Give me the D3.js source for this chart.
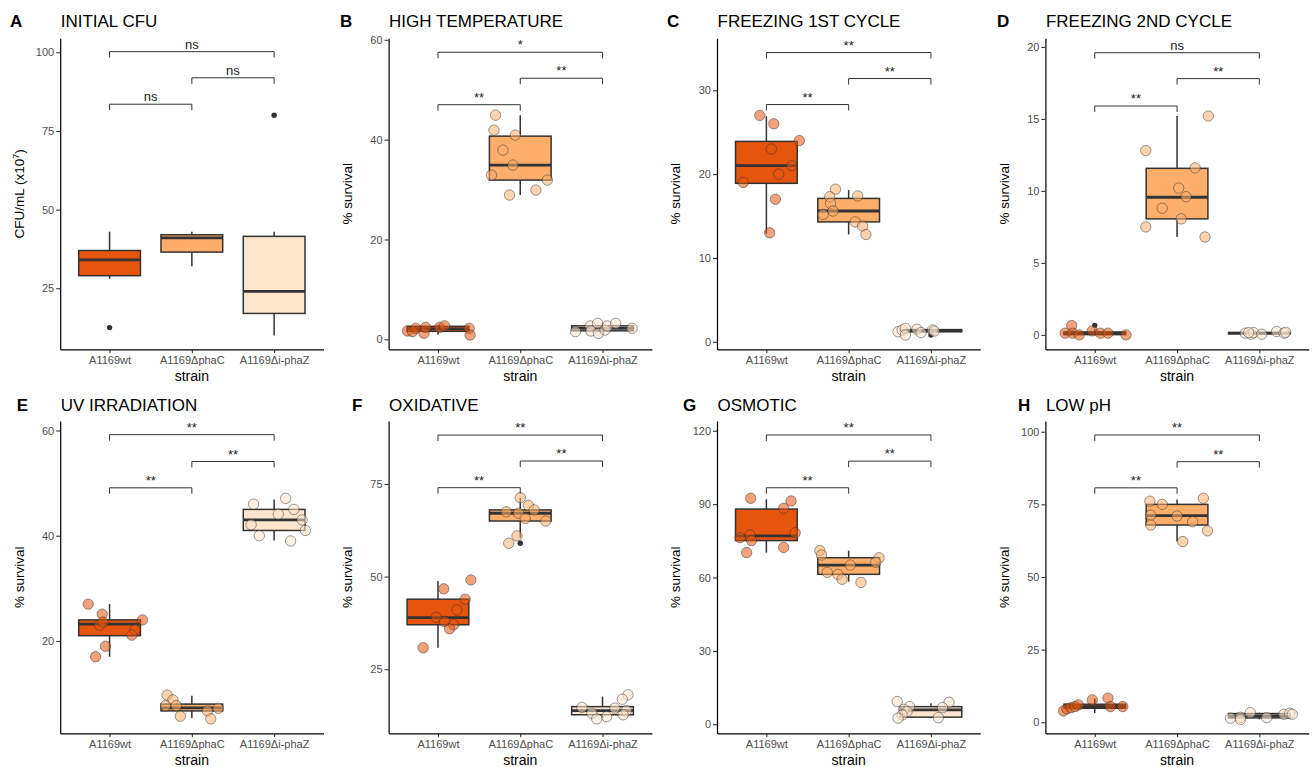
<!DOCTYPE html>
<html>
<head>
<meta charset="utf-8">
<script src="https://cdn.jsdelivr.net/npm/d3@7"></script>
<style>
  body { margin: 0; background: #fff; }
  text { font-family: "Liberation Sans", Arial, sans-serif; }
</style>
</head>
<body>
<svg id="chart" width="1312" height="767"></svg>
<script>
// ---- data ----
const strains = ["A1169wt", "A1169ΔphaC", "A1169Δi-phaZ"];
const fills = ["#E6550D", "#FDAE6B", "#FEE6CE"];

const letters = ["A", "B", "C", "D", "E", "F", "G", "H"];
const titles = ["INITIAL CFU", "HIGH TEMPERATURE", "FREEZING 1ST CYCLE", "FREEZING 2ND CYCLE",
                "UV IRRADIATION", "OXIDATIVE", "OSMOTIC", "LOW pH"];
const yDomains = [[5.6, 104.45], [-2, 60.3], [-0.9, 36.2], [-1, 20.6],
                  [2.45, 61.8], [7.7, 92], [-3.7, 124], [-3.8, 103.7]];
const yTicks = [[25, 50, 75, 100], [0, 20, 40, 60], [0, 10, 20, 30], [0, 5, 10, 15, 20],
                [20, 40, 60], [25, 50, 75], [0, 30, 60, 90, 120], [0, 25, 50, 75, 100]];

// box stats per strain: [lower whisker, q1, median, q3, upper whisker]
const boxA = [[28, 29, 34, 37, 43], [32, 36.5, 41, 42, 43], [10, 17, 24, 41.5, 43]];
const boxB = [[0.9, 1.6, 2.1, 2.6, 2.9], [28.9, 31.9, 34.9, 40.7, 44.9], [1.2, 1.7, 2.2, 2.7, 3.2]];
const boxC = [[12.9, 18.9, 21.0, 23.9, 26.9], [12.8, 14.3, 15.6, 17.1, 18.1], [1.1, 1.2, 1.3, 1.45, 1.6]];
const boxD = [[0, 0.02, 0.12, 0.2, 0.4], [6.8, 8.06, 9.56, 11.57, 15.2], [0.05, 0.08, 0.12, 0.16, 0.23]];
const boxE = [[17, 21, 23.2, 24, 27], [5.3, 6.7, 7.3, 8.0, 9.6], [39.1, 41, 43, 45, 46.9]];
const boxF = [[30.8, 37, 38.9, 43.9, 48.8], [60.5, 65, 67.1, 68, 71.3], [11.8, 12.7, 13.8, 14.9, 17.6]];
const boxG = [[70.2, 75.1, 77, 88, 92], [58.3, 61.3, 65.1, 68.1, 71], [2.5, 2.9, 5.9, 7.2, 8.6]];
const boxH = [[3.2, 4.8, 5.4, 6.2, 8.2], [62.2, 67.9, 71.1, 75, 76.7], [1.0, 1.5, 2.2, 3.0, 3.3]];

// outliers: [strain, value]
const outA = [[0, 12.5], [2, 80]];
const outB = [];
const outC = [[2, 0.8]];
const outD = [[0, 0.65]];
const outE = [];
const outF = [[1, 59]];
const outG = [];
const outH = [];

// jittered replicates: [strain, value, jitter (fraction of category step)]
const ptsA = [];
const ptsB = [
  [0, 1.67, -0.37], [0, 1.53, -0.31], [0, 2.2, -0.27], [0, 1.2, -0.17], [0, 2.4, -0.15], [0, 2.4, 0.02], [0, 2.7, 0.08], [0, 2.2, 0.38], [0, 0.87, 0.39],
  [1, 44.9, -0.30], [1, 41.9, -0.32], [1, 40.9, -0.06], [1, 37.9, -0.21], [1, 34.9, -0.09], [1, 32.9, -0.35], [1, 31.9, 0.33], [1, 29.9, 0.19], [1, 28.9, -0.13],
  [2, 1.53, -0.33], [2, 2.67, -0.15], [2, 1.67, -0.14], [2, 3.2, -0.06], [2, 1.2, -0.05], [2, 1.87, 0.03], [2, 2.67, 0.06], [2, 3.2, 0.16], [2, 2.2, 0.36]];
const ptsC = [
  [0, 27, -0.08], [0, 26, 0.09], [0, 24, 0.40], [0, 23, 0.06], [0, 21, 0.31], [0, 20, 0.15], [0, 19, -0.28], [0, 17, 0.11], [0, 13, 0.04],
  [1, 18.2, -0.16], [1, 17.3, -0.23], [1, 17.4, 0.11], [1, 16.5, -0.22], [1, 15.6, -0.19], [1, 15.2, -0.31], [1, 14.3, 0.08], [1, 13.8, 0.17], [1, 12.8, 0.21],
  [2, 1.2, -0.40], [2, 1.4, -0.35], [2, 1.6, -0.31], [2, 0.8, -0.31], [2, 1.5, -0.17], [2, 1.1, -0.12], [2, 1.4, 0.02], [2, 1.27, 0.04]];
const ptsD = [
  [0, 0.65, -0.28], [0, 0.12, -0.36], [0, 0.12, -0.27], [0, 0, -0.19], [0, 0.28, -0.03], [0, 0.12, 0.07], [0, 0.12, 0.16], [0, 0, 0.38],
  [1, 15.2, 0.38], [1, 12.8, -0.38], [1, 11.6, 0.22], [1, 10.2, 0.02], [1, 9.6, 0.11], [1, 8.8, -0.18], [1, 8.06, 0.05], [1, 7.5, -0.38], [1, 6.8, 0.34],
  [2, 0.12, -0.17], [2, 0.05, -0.10], [2, 0.16, -0.07], [2, 0.05, 0.03], [2, 0.23, 0.21], [2, 0.12, 0.30], [2, 0.18, 0.32], [2, 0.16, -0.13]];
const ptsE = [
  [0, 27, -0.26], [0, 25.1, -0.09], [0, 23, -0.12], [0, 23.6, -0.08], [0, 24, 0.40], [0, 22.1, 0.31], [0, 21.1, 0.27], [0, 19, -0.05], [0, 17, -0.17],
  [1, 9.7, -0.30], [1, 8.8, -0.23], [1, 7.7, -0.32], [1, 7.7, -0.19], [1, 5.7, -0.14], [1, 6.7, 0.19], [1, 5.2, 0.23], [1, 7.2, 0.32],
  [2, 46, -0.25], [2, 47.1, 0.14], [2, 44.1, 0.05], [2, 45, 0.24], [2, 42.1, -0.28], [2, 43, 0.34], [2, 41, 0.38], [2, 40, -0.18], [2, 39, 0.20]];
const ptsF = [
  [0, 49.1, 0.40], [0, 46.7, 0.07], [0, 43.9, 0.33], [0, 41, 0.23], [0, 39, -0.02], [0, 37.9, 0.08], [0, 37, 0.19], [0, 35.9, 0.14], [0, 30.8, -0.18],
  [1, 71.3, 0.00], [1, 69.2, 0.10], [1, 68, 0.17], [1, 67.5, -0.17], [1, 67.1, -0.02], [1, 65.7, 0.06], [1, 65, 0.31], [1, 61, -0.04], [1, 59, -0.14],
  [2, 18.1, 0.31], [2, 16.9, 0.24], [2, 14.7, -0.25], [2, 14.5, 0.15], [2, 13.8, 0.29], [2, 13.1, -0.13], [2, 12.7, 0.25], [2, 12.2, 0.05], [2, 11.6, -0.07]];
const ptsG = [
  [0, 92.4, -0.19], [0, 91.3, 0.30], [0, 88.3, 0.21], [0, 78.3, 0.35], [0, 77.4, -0.20], [0, 76.3, -0.32], [0, 75.1, -0.18], [0, 72.3, 0.21], [0, 70.2, -0.24],
  [1, 71, -0.35], [1, 69.2, -0.33], [1, 68.1, 0.37], [1, 66.2, 0.33], [1, 65.1, 0.02], [1, 62.1, -0.26], [1, 61.3, -0.13], [1, 59.3, -0.08], [1, 58, 0.15],
  [2, 9.3, -0.41], [2, 9, 0.22], [2, 7.2, -0.26], [2, 6.1, -0.33], [2, 6.8, 0.14], [2, 5.2, -0.29], [2, 3.8, -0.35], [2, 2.5, -0.40], [2, 2.7, 0.09]];
const ptsH = [
  [0, 3.9, -0.38], [0, 4.6, -0.34], [0, 5, -0.29], [0, 5.4, -0.24], [0, 6, -0.20], [0, 7.7, -0.03], [0, 8.3, 0.16], [0, 5.4, 0.19], [0, 5.4, 0.34],
  [1, 77.1, 0.32], [1, 76.1, -0.33], [1, 75, -0.18], [1, 71.3, -0.32], [1, 71, 0], [1, 69, 0.19], [1, 67.9, -0.32], [1, 65.9, 0.37], [1, 62.2, 0.07],
  [2, 1.4, -0.35], [2, 1.7, -0.23], [2, 3.3, -0.11], [2, 1.6, 0.09], [2, 2.75, 0.30], [2, 3.1, 0.37], [2, 2.75, 0.40], [2, 1.0, -0.23]];

// significance brackets: [from, to, y value, label]
const brA = [[0, 1, 83.5, "ns"], [1, 2, 91.9, "ns"], [0, 2, 100.2, "ns"]];
const brB = [[0, 1, 47, "**"], [1, 2, 52.3, "**"], [0, 2, 57.5, "*"]];
const brC = [[0, 1, 28.3, "**"], [1, 2, 31.4, "**"], [0, 2, 34.5, "**"]];
const brD = [[0, 1, 15.9, "**"], [1, 2, 17.8, "**"], [0, 2, 19.6, "ns"]];
const brE = [[0, 1, 49.1, "**"], [1, 2, 54.1, "**"], [0, 2, 59.2, "**"]];
const brF = [[0, 1, 74, "**"], [1, 2, 81.2, "**"], [0, 2, 88.2, "**"]];
const brG = [[0, 1, 96.7, "**"], [1, 2, 107.6, "**"], [0, 2, 118.3, "**"]];
const brH = [[0, 1, 80.7, "**"], [1, 2, 89.7, "**"], [0, 2, 98.9, "**"]];

const boxes = [boxA, boxB, boxC, boxD, boxE, boxF, boxG, boxH];
const outliers = [outA, outB, outC, outD, outE, outF, outG, outH];
const points = [ptsA, ptsB, ptsC, ptsD, ptsE, ptsF, ptsG, ptsH];
const brackets = [brA, brB, brC, brD, brE, brF, brG, brH];

// ---- layout ----
const colW = 328.4;
const rowTop = [38.3, 421], rowBottom = [349.3, 733.3], titleBase = [27, 411];
const letterX = [10, 11.6, 10.2, 11.8, 16.7, 23.6, 26.2, 32.8];

const svg = d3.select("#chart");

letters.forEach(function(letter, k) {
  const col = k % 4, row = Math.floor(k / 4);
  const x0 = col * colW;
  const left = x0 + 60.2, right = x0 + 323.5;
  const top = rowTop[row], bottom = rowBottom[row];

  const x = d3.scalePoint().domain([0, 1, 2]).range([left, right]).padding(0.6);
  const step = x.step(), bw = 0.75 * step;
  const y = d3.scaleLinear().domain(yDomains[k]).range([bottom, top]);

  const g = svg.append("g");

  // boxplots
  boxes[k].forEach(function(b, i) {
    const cx = x(i);
    g.append("line").attr("x1", cx).attr("x2", cx).attr("y1", y(b[0])).attr("y2", y(b[1]))
      .attr("stroke", "#333").attr("stroke-width", 1.5);
    g.append("line").attr("x1", cx).attr("x2", cx).attr("y1", y(b[3])).attr("y2", y(b[4]))
      .attr("stroke", "#333").attr("stroke-width", 1.5);
    g.append("rect")
      .attr("x", cx - bw / 2).attr("width", bw)
      .attr("y", y(b[3])).attr("height", Math.max(0.5, y(b[1]) - y(b[3])))
      .attr("fill", fills[i]).attr("stroke", "#333").attr("stroke-width", 1.5);
    g.append("line").attr("x1", cx - bw / 2).attr("x2", cx + bw / 2).attr("y1", y(b[2])).attr("y2", y(b[2]))
      .attr("stroke", "#333").attr("stroke-width", 2.8);
  });

  g.selectAll(".outlier").data(outliers[k]).enter().append("circle")
    .attr("cx", d => x(d[0])).attr("cy", d => y(d[1])).attr("r", 2.7).attr("fill", "#333");

  // jittered replicates
  g.selectAll(".pt").data(points[k]).enter().append("circle")
    .attr("cx", d => x(d[0]) + d[2] * step)
    .attr("cy", d => y(d[1]))
    .attr("r", 5.2)
    .attr("fill", d => fills[d[0]]).attr("fill-opacity", 0.55)
    .attr("stroke", "#333").attr("stroke-opacity", 0.55).attr("stroke-width", 0.9);

  // brackets
  brackets[k].forEach(function(br) {
    const yy = y(br[2]), xa = x(br[0]), xb = x(br[1]);
    g.append("path")
      .attr("d", "M" + xa + "," + (yy + 6) + "V" + yy + "H" + xb + "V" + (yy + 6))
      .attr("fill", "none").attr("stroke", "#333").attr("stroke-width", 1);
    g.append("text").attr("x", (xa + xb) / 2).attr("y", yy - 3)
      .attr("text-anchor", "middle").attr("font-size", 13).attr("fill", "#222")
      .text(br[3]);
  });

  // axes
  const gy = g.append("g").attr("transform", "translate(" + left + ",0)")
    .call(d3.axisLeft(y).tickValues(yTicks[k]).tickSize(4).tickSizeOuter(0).tickPadding(2));
  const gx = g.append("g").attr("transform", "translate(0," + bottom + ")")
    .call(d3.axisBottom(x).tickFormat(i => strains[i]).tickSize(4).tickSizeOuter(0).tickPadding(3));
  [gx, gy].forEach(function(a) {
    a.select(".domain").attr("stroke", "#000").attr("stroke-width", 1.2);
    a.selectAll(".tick line").attr("stroke", "#333").attr("stroke-width", 1.1);
    a.selectAll(".tick text").attr("fill", "#4D4D4D").attr("font-size", 11)
      .attr("font-family", "Liberation Sans, Arial, sans-serif");
  });

  // titles
  g.append("text").attr("x", x0 + letterX[k]).attr("y", titleBase[row])
    .attr("font-size", 17).attr("font-weight", "bold").text(letter);
  g.append("text").attr("x", left + 0.5).attr("y", titleBase[row])
    .attr("font-size", 17).text(titles[k]);

  g.append("text").attr("x", (left + right) / 2).attr("y", bottom + 32)
    .attr("text-anchor", "middle").attr("font-size", 14).text("strain");

  const yt = g.append("text")
    .attr("transform", "translate(" + (x0 + 23.5) + "," + ((top + bottom) / 2) + ") rotate(-90)")
    .attr("text-anchor", "middle").attr("font-size", 13.5);
  if (k === 0) {
    yt.append("tspan").text("CFU/mL (x10");
    yt.append("tspan").attr("dy", -5).attr("font-size", 9).text("7");
    yt.append("tspan").attr("dy", 5).text(")");
  } else {
    yt.text("% survival");
  }
});
</script>
</body>
</html>
